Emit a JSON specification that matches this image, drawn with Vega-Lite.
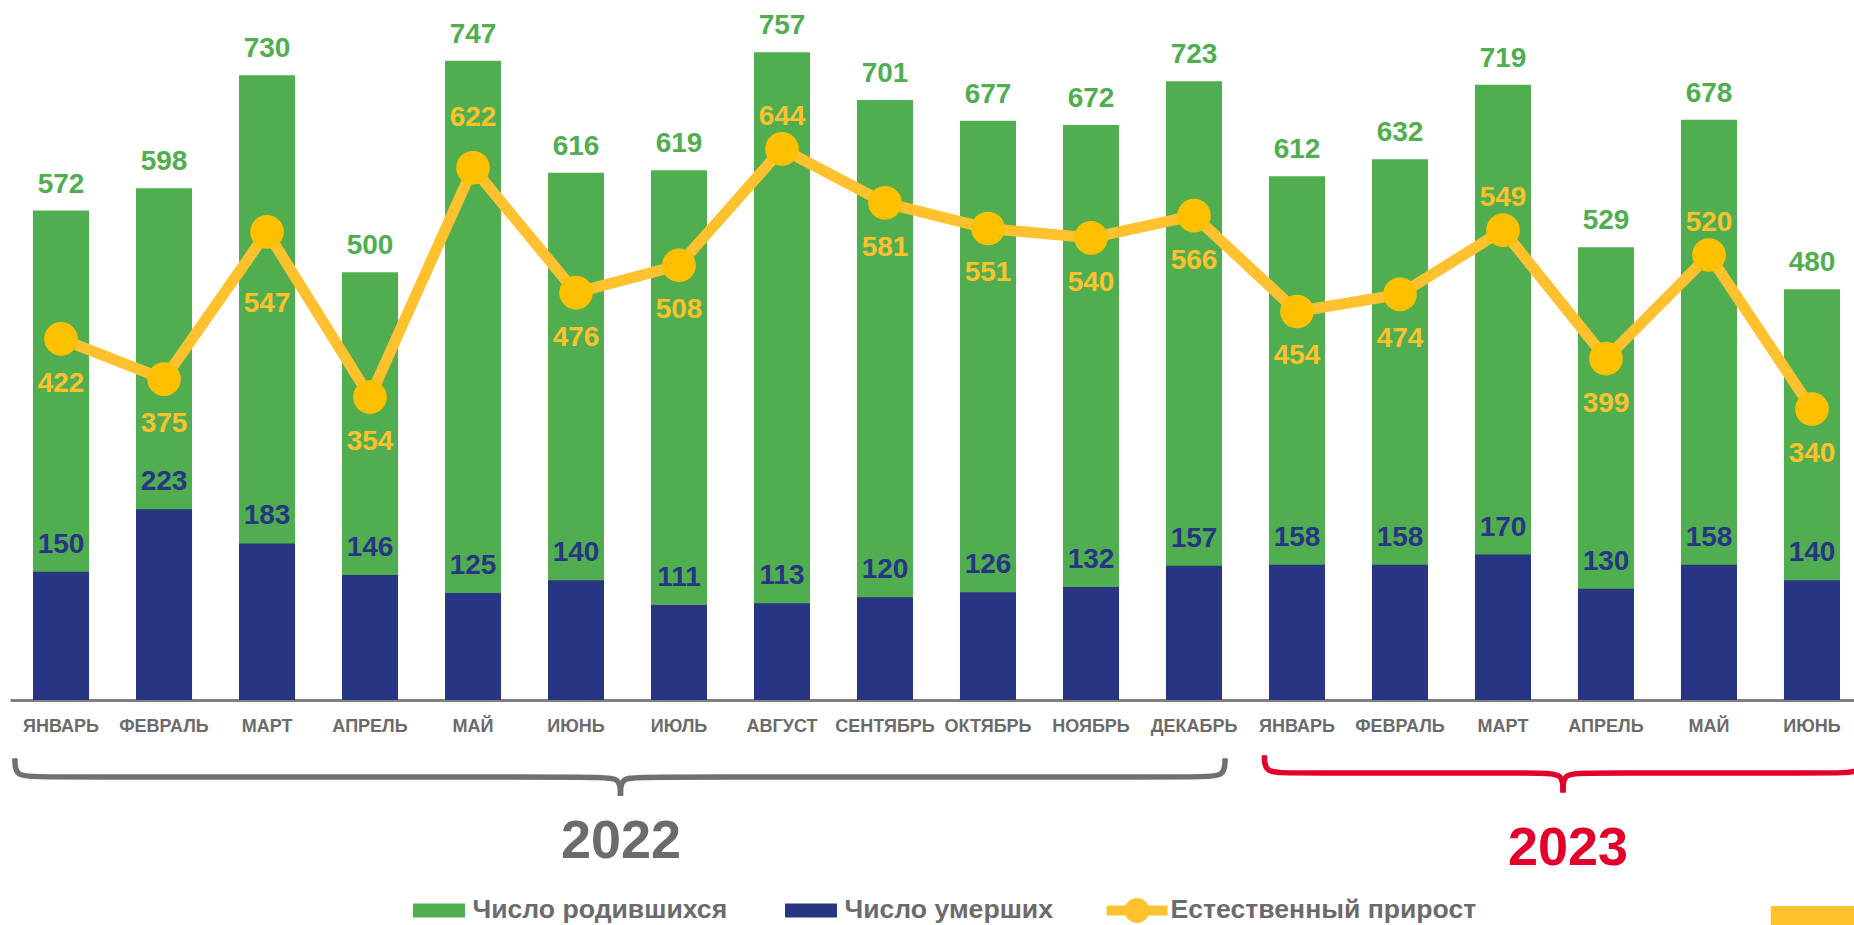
{
  "$schema": "https://vega.github.io/schema/vega-lite/v6.json",
  "width": 1844,
  "height": 700,
  "autosize": {"type": "none"},
  "padding": {"left": 10, "top": 0, "right": 0, "bottom": 225},
  "background": "white",
  "config": {"view": {"stroke": null}, "font": "Liberation Sans, Arial, sans-serif"},
  "datasets": {
    "monthly": [
      {"period": "ЯНВАРЬ 2022", "births": 572, "deaths": 150, "growth": 422},
      {"period": "ФЕВРАЛЬ 2022", "births": 598, "deaths": 223, "growth": 375},
      {"period": "МАРТ 2022", "births": 730, "deaths": 183, "growth": 547},
      {"period": "АПРЕЛЬ 2022", "births": 500, "deaths": 146, "growth": 354},
      {"period": "МАЙ 2022", "births": 747, "deaths": 125, "growth": 622},
      {"period": "ИЮНЬ 2022", "births": 616, "deaths": 140, "growth": 476},
      {"period": "ИЮЛЬ 2022", "births": 619, "deaths": 111, "growth": 508},
      {"period": "АВГУСТ 2022", "births": 757, "deaths": 113, "growth": 644},
      {"period": "СЕНТЯБРЬ 2022", "births": 701, "deaths": 120, "growth": 581},
      {"period": "ОКТЯБРЬ 2022", "births": 677, "deaths": 126, "growth": 551},
      {"period": "НОЯБРЬ 2022", "births": 672, "deaths": 132, "growth": 540},
      {"period": "ДЕКАБРЬ 2022", "births": 723, "deaths": 157, "growth": 566},
      {"period": "ЯНВАРЬ 2023", "births": 612, "deaths": 158, "growth": 454},
      {"period": "ФЕВРАЛЬ 2023", "births": 632, "deaths": 158, "growth": 474},
      {"period": "МАРТ 2023", "births": 719, "deaths": 170, "growth": 549},
      {"period": "АПРЕЛЬ 2023", "births": 529, "deaths": 130, "growth": 399},
      {"period": "МАЙ 2023", "births": 678, "deaths": 158, "growth": 520},
      {"period": "ИЮНЬ 2023", "births": 480, "deaths": 140, "growth": 340}
    ],
    "braces": [
      {"brace": "2022", "part": "L", "bx": -0.447, "by": -68},
      {"brace": "2022", "part": "L", "bx": -0.447, "by": -90},
      {"brace": "2022", "part": "L", "bx": -0.2, "by": -90},
      {"brace": "2022", "part": "L", "bx": 5.2, "by": -90},
      {"brace": "2022", "part": "L", "bx": 5.432, "by": -90},
      {"brace": "2022", "part": "L", "bx": 5.432, "by": -112},
      {"brace": "2022", "part": "R", "bx": 11.301, "by": -68},
      {"brace": "2022", "part": "R", "bx": 11.301, "by": -90},
      {"brace": "2022", "part": "R", "bx": 11.05, "by": -90},
      {"brace": "2022", "part": "R", "bx": 5.66, "by": -90},
      {"brace": "2022", "part": "R", "bx": 5.432, "by": -90},
      {"brace": "2022", "part": "R", "bx": 5.432, "by": -112},
      {"brace": "2023", "part": "L", "bx": 11.684, "by": -64.5},
      {"brace": "2023", "part": "L", "bx": 11.684, "by": -85.3},
      {"brace": "2023", "part": "L", "bx": 11.93, "by": -85.3},
      {"brace": "2023", "part": "L", "bx": 14.36, "by": -85.3},
      {"brace": "2023", "part": "L", "bx": 14.583, "by": -85.3},
      {"brace": "2023", "part": "L", "bx": 14.583, "by": -108},
      {"brace": "2023", "part": "R", "bx": 17.482, "by": -64.5},
      {"brace": "2023", "part": "R", "bx": 17.482, "by": -85.3},
      {"brace": "2023", "part": "R", "bx": 17.23, "by": -85.3},
      {"brace": "2023", "part": "R", "bx": 14.8, "by": -85.3},
      {"brace": "2023", "part": "R", "bx": 14.583, "by": -85.3},
      {"brace": "2023", "part": "R", "bx": 14.583, "by": -108}
    ],
    "years": [
      {"label": "2022", "bx": 5.437, "by": -184.6},
      {"label": "2023", "bx": 14.631, "by": -192.8}
    ],
    "corner": [
      {"bx": 16.6, "bx2": 17.45, "by": -240.7, "by2": -275}
    ]
  },
  "layer": [
    {
      "data": {"name": "monthly"},
      "encoding": {
        "x": {
          "field": "period",
          "type": "nominal",
          "sort": null,
          "scale": {"paddingInner": 0.456, "paddingOuter": 0.1796, "align": 0.6216},
          "axis": {
            "title": null,
            "labelExpr": "split(datum.value, ' ')[0]",
            "labelFont": "Liberation Sans, Arial, sans-serif",
            "labelFontSize": 18,
            "labelFontWeight": "bold",
            "labelColor": "#6B6B6B",
            "labelPadding": 17,
            "labelBaseline": "top",
            "labelAngle": 0,
            "labelOverlap": false,
            "labelLimit": 0,
            "ticks": false,
            "tickSize": 0,
            "grid": false,
            "domainColor": "#808080",
            "domainWidth": 3
          }
        }
      },
      "layer": [
        {
          "mark": {"type": "bar"},
          "encoding": {
            "y": {"field": "births", "type": "quantitative", "scale": {"domain": [0, 818], "nice": false}, "axis": null},
            "color": {
              "datum": "Число родившихся",
              "type": "nominal",
              "scale": {
                "domain": ["Число родившихся", "Число умерших", "Естественный прирост"],
                "range": ["#50AE50", "#283583", "#FFC12E"]
              },
              "legend": {
                "orient": "none",
                "legendX": 398.5,
                "legendY": 879.5,
                "direction": "horizontal",
                "title": null,
                "padding": 0,
                "symbolSize": 3721,
                "labelFont": "Liberation Sans, Arial, sans-serif",
                "labelFontSize": 26.6,
                "labelFontWeight": "bold",
                "labelColor": "#6B6B6B",
                "labelOffset": 3,
                "labelLimit": 0,
                "columnPadding": 53,
                "encode": {
                  "symbols": {
                    "update": {
                      "shape": {"signal": "datum.value === 'Естественный прирост' ? 'M-1,-0.164H1V0.164H-1Z M0.41,0A0.41,0.41 0 1,1 -0.41,0A0.41,0.41 0 1,1 0.41,0Z' : 'M-0.852,-0.23H0.852V0.23H-0.852Z'"},
                      "fill": {"signal": "datum.value === 'Естественный прирост' ? '#FFC000' : scale('color', datum.value)"},
                      "stroke": {"value": "transparent"},
                      "strokeWidth": {"value": 0},
                      "opacity": {"value": 1},
                      "fillOpacity": {"value": 1}
                    }
                  }
                }
              }
            }
          }
        },
        {
          "mark": {"type": "bar"},
          "encoding": {
            "y": {"field": "deaths", "type": "quantitative", "scale": {"domain": [0, 818], "nice": false}, "axis": null},
            "color": {"datum": "Число умерших", "type": "nominal"}
          }
        },
        {
          "mark": {"type": "line", "strokeWidth": 11, "strokeJoin": "round"},
          "encoding": {
            "y": {"field": "growth", "type": "quantitative", "scale": {"domain": [0, 818], "nice": false}, "axis": null},
            "color": {"datum": "Естественный прирост", "type": "nominal"},
            "order": {"value": null}
          }
        },
        {
          "mark": {"type": "point", "filled": true, "size": 1134, "color": "#FFC000", "opacity": 1},
          "encoding": {
            "y": {"field": "growth", "type": "quantitative", "scale": {"domain": [0, 818], "nice": false}, "axis": null}
          }
        },
        {
          "mark": {"type": "text", "fontSize": 28, "fontWeight": "bold", "baseline": "alphabetic", "align": "center", "dy": -18, "color": "#50AE50"},
          "encoding": {
            "y": {"field": "births", "type": "quantitative", "scale": {"domain": [0, 818], "nice": false}, "axis": null},
            "text": {"field": "births", "type": "quantitative"}
          }
        },
        {
          "mark": {"type": "text", "fontSize": 28, "fontWeight": "bold", "baseline": "alphabetic", "align": "center", "dy": -19, "color": "#283583"},
          "encoding": {
            "y": {"field": "deaths", "type": "quantitative", "scale": {"domain": [0, 818], "nice": false}, "axis": null},
            "text": {"field": "deaths", "type": "quantitative"}
          }
        },
        {
          "transform": [{"filter": {"not": {"field": "period", "oneOf": ["МАЙ 2022", "АВГУСТ 2022", "МАРТ 2023", "МАЙ 2023", "МАРТ 2022"]}}}],
          "mark": {"type": "text", "fontSize": 28, "fontWeight": "bold", "baseline": "alphabetic", "align": "center", "dy": 53, "color": "#FFC12E"},
          "encoding": {
            "y": {"field": "growth", "type": "quantitative", "scale": {"domain": [0, 818], "nice": false}, "axis": null},
            "text": {"field": "growth", "type": "quantitative"}
          }
        },
        {
          "transform": [{"filter": {"field": "period", "oneOf": ["МАРТ 2022"]}}],
          "mark": {"type": "text", "fontSize": 28, "fontWeight": "bold", "baseline": "alphabetic", "align": "center", "dy": 80, "color": "#FFC12E"},
          "encoding": {
            "y": {"field": "growth", "type": "quantitative", "scale": {"domain": [0, 818], "nice": false}, "axis": null},
            "text": {"field": "growth", "type": "quantitative"}
          }
        },
        {
          "transform": [{"filter": {"field": "period", "oneOf": ["АВГУСТ 2022", "МАРТ 2023", "МАЙ 2023"]}}],
          "mark": {"type": "text", "fontSize": 28, "fontWeight": "bold", "baseline": "alphabetic", "align": "center", "dy": -24, "color": "#FFC12E"},
          "encoding": {
            "y": {"field": "growth", "type": "quantitative", "scale": {"domain": [0, 818], "nice": false}, "axis": null},
            "text": {"field": "growth", "type": "quantitative"}
          }
        },
        {
          "transform": [{"filter": {"field": "period", "oneOf": ["МАЙ 2022"]}}],
          "mark": {"type": "text", "fontSize": 28, "fontWeight": "bold", "baseline": "alphabetic", "align": "center", "dy": -42, "color": "#FFC12E"},
          "encoding": {
            "y": {"field": "growth", "type": "quantitative", "scale": {"domain": [0, 818], "nice": false}, "axis": null},
            "text": {"field": "growth", "type": "quantitative"}
          }
        }
      ]
    },
    {
      "encoding": {
        "x": {"field": "bx", "type": "quantitative", "scale": {"domain": [-0.4951, 17.408], "nice": false, "zero": false}, "axis": null},
        "y": {"field": "by", "type": "quantitative", "scale": {"domain": [0, 818], "nice": false}, "axis": null}
      },
      "layer": [
        {
          "data": {"name": "braces"},
          "mark": {"type": "line", "interpolate": "basis", "strokeWidth": 5.5, "strokeCap": "butt"},
          "encoding": {
            "detail": [{"field": "brace", "type": "nominal"}, {"field": "part", "type": "nominal"}],
            "order": {"value": null},
            "color": {"condition": {"test": "datum.brace === '2023'", "value": "#E2002B"}, "value": "#707070"}
          }
        },
        {
          "data": {"name": "years"},
          "mark": {"type": "text", "fontSize": 54, "fontWeight": "bold", "baseline": "alphabetic", "align": "center"},
          "encoding": {
            "text": {"field": "label", "type": "nominal"},
            "color": {"condition": {"test": "datum.label === '2023'", "value": "#E2002B"}, "value": "#6B6B6B"}
          }
        },
        {
          "data": {"name": "corner"},
          "mark": {"type": "rect", "color": "#FFC12E"},
          "encoding": {
            "x2": {"field": "bx2"},
            "y2": {"field": "by2"}
          }
        }
      ]
    }
  ],
  "resolve": {"scale": {"x": "independent"}}
}
